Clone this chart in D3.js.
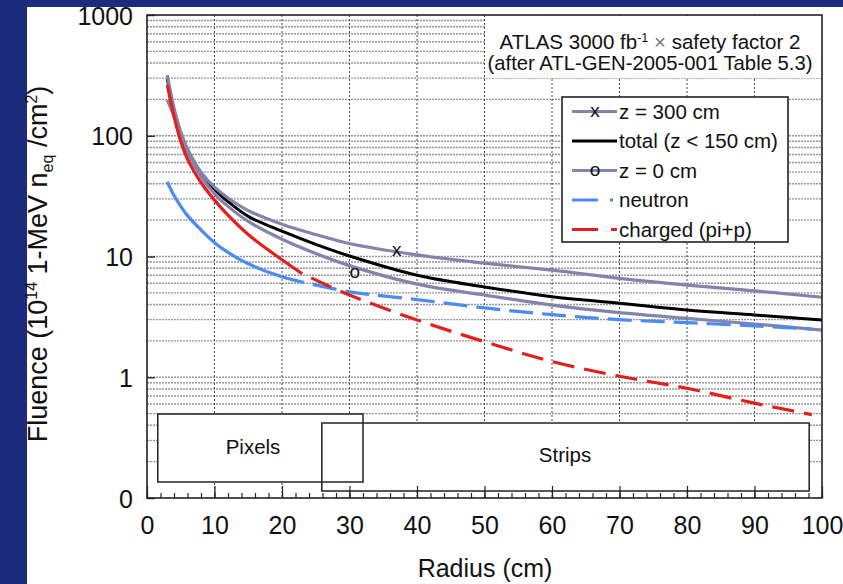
<!DOCTYPE html>
<html>
<head>
<meta charset="utf-8">
<script src="https://cdn.jsdelivr.net/npm/d3@7"></script>
<style>
  html, body { margin: 0; padding: 0; background: #1c2b7b; }
  svg { display: block; }
  text { font-family: "Liberation Sans", Arial, Helvetica, sans-serif; fill: #111; }
</style>
</head>
<body>
<svg id="chart" width="843" height="584"></svg>
<script>
// Radial fluence profiles (units of 1e14 1-MeV neq/cm^2)
const radii     = [3, 4, 5, 6, 8, 10, 12, 15, 20, 25, 30, 40, 50, 60, 70, 80, 90, 100];
const z300      = [318, 170, 108, 78, 50, 37.5, 30.5, 24, 18.5, 15.2, 12.8, 10.3, 8.8, 7.7, 6.6, 5.8, 5.2, 4.6];
const total     = [295, 163, 103, 74, 48, 36, 28.5, 21.5, 16.2, 12.6, 10.1, 7.0, 5.6, 4.65, 4.1, 3.6, 3.28, 2.98];
const z0        = [198, 145, 100, 73, 46, 33, 26, 19.5, 13.9, 10.6, 8.4, 5.9, 4.8, 3.96, 3.43, 3.07, 2.76, 2.46];

const radiiComp = [3, 4, 5, 6, 8, 10, 12, 15, 20, 23, 30, 40, 50, 60, 70, 80, 90, 98.5];
const neutron   = [41.6, 32, 26, 21.8, 16.6, 13.0, 10.8, 8.7, 6.8, 6.15, 5.1, 4.4, 3.75, 3.3, 3.0, 2.83, 2.66, 2.51];
const charged   = [263, 145, 90, 64, 41, 29.3, 22, 15.2, 9.4, 7.2, 4.8, 2.98, 1.97, 1.35, 1.02, 0.81, 0.61, 0.49];
const solidUpTo = 23;   // components drawn solid up to this radius, dashed beyond

const xTicks = d3.range(0, 101, 10);
const xMinorTicks = d3.range(0, 101, 2);
const yTicks = [0.1, 1, 10, 100, 1000];

const seriesNames = ["z = 300 cm", "total (z < 150 cm)", "z = 0 cm", "neutron", "charged (pi+p)"];
const markerLabels = [{ series: "z = 300 cm", r: 37, v: 11.3, ch: "x" },
                      { series: "z = 0 cm", r: 30.8, v: 7.4, ch: "o" }];

// detector regions (radial extents, cm)
const detectorNames = ["Pixels", "Strips"];
const detectorR0 = [1.6, 25.9];
const detectorR1 = [32, 98.1];

const svg = d3.select("#chart");
const W = 843, H = 584;

// white panel
svg.append("rect").attr("x", 27).attr("y", 7).attr("width", W - 27).attr("height", H - 7).attr("fill", "#fff");

const plot = { left: 147, right: 822, top: 15, bottom: 498 };
const x = d3.scaleLinear().domain([0, 100]).range([plot.left, plot.right]);
const y = d3.scaleLog().domain([0.1, 1000]).range([plot.bottom, plot.top]);

// horizontal grid: 1..9 within each decade
const hGrid = [];
[0.1, 1, 10, 100].forEach(d => { for (let k = 1; k <= 9; k++) { const v = d * k; if (v > 0.1) hGrid.push(v); } });
svg.append("g").selectAll("line").data(hGrid).join("line")
  .attr("x1", plot.left).attr("x2", plot.right)
  .attr("y1", d => y(d)).attr("y2", d => y(d))
  .attr("stroke", "#959595").attr("stroke-width", 1.4).attr("stroke-dasharray", "2,1");

// vertical grid every 10 cm
svg.append("g").selectAll("line").data(xTicks.filter(t => t > 0 && t < 100)).join("line")
  .attr("x1", d => x(d)).attr("x2", d => x(d))
  .attr("y1", plot.top).attr("y2", plot.bottom)
  .attr("stroke", "#444").attr("stroke-width", 1).attr("stroke-dasharray", "2,2");

// title block
svg.append("rect").attr("x", 485).attr("y", plot.top + 1).attr("width", plot.right - 486).attr("height", 62).attr("fill", "#fff");
const t1 = svg.append("text").attr("x", 650).attr("y", 48.5).attr("text-anchor", "middle").style("font-size", "20.5px");
t1.append("tspan").text("ATLAS 3000 fb");
t1.append("tspan").attr("dy", -7).style("font-size", "12.5px").text("-1");
t1.append("tspan").attr("dy", 7).text(" ");
t1.append("tspan").style("fill", "#777").style("font-weight", "300").text("×");
t1.append("tspan").text(" safety factor 2");
svg.append("text").attr("x", 650).attr("y", 70).attr("text-anchor", "middle").style("font-size", "20.3px")
  .text("(after ATL-GEN-2005-001 Table 5.3)");

// detector region boxes
const boxTop = [414, 423], boxBottom = [482, 491];
const boxes = svg.append("g");
detectorNames.forEach((n, i) => {
  boxes.append("rect").attr("x", x(detectorR0[i])).attr("y", boxTop[i])
    .attr("width", x(detectorR1[i]) - x(detectorR0[i])).attr("height", boxBottom[i] - boxTop[i])
    .attr("fill", "#fff");
});
detectorNames.forEach((n, i) => {
  boxes.append("rect").attr("x", x(detectorR0[i])).attr("y", boxTop[i])
    .attr("width", x(detectorR1[i]) - x(detectorR0[i])).attr("height", boxBottom[i] - boxTop[i])
    .attr("fill", "none").attr("stroke", "#222").attr("stroke-width", 1.5);
});
boxes.append("text").attr("x", 253).attr("y", 454).attr("text-anchor", "middle").style("font-size", "20.5px").text("Pixels");
boxes.append("text").attr("x", 565).attr("y", 462).attr("text-anchor", "middle").style("font-size", "20.5px").text("Strips");

// curves
const line = d3.line().x(d => x(d[0])).y(d => y(d[1])).curve(d3.curveCatmullRom.alpha(0.5));
const zip = (rs, vs) => rs.map((r, i) => [r, vs[i]]);

const styles = {
  "z = 300 cm":          { color: "#8383ab", width: 3.2 },
  "total (z < 150 cm)":  { color: "#000000", width: 3 },
  "z = 0 cm":            { color: "#8383ab", width: 3.2 },
  "neutron":             { color: "#4a8cf0", width: 3.2, dash: "24,9" },
  "charged (pi+p)":      { color: "#e3201e", width: 3.2, dash: "22,10" }
};

const curves = svg.append("g").attr("fill", "none").attr("stroke-linecap", "butt");
function drawProfile(name, vals) {
  const s = styles[name];
  curves.append("path").attr("d", line(zip(radii, vals))).attr("stroke", s.color).attr("stroke-width", s.width);
}
function drawComponent(name, vals) {
  const pts = zip(radiiComp, vals);
  const solid = pts.filter(p => p[0] <= solidUpTo);
  const dashed = pts.filter(p => p[0] >= solidUpTo);
  const s = styles[name];
  curves.append("path").attr("d", line(solid)).attr("stroke", s.color).attr("stroke-width", s.width);
  curves.append("path").attr("d", line(dashed)).attr("stroke", s.color).attr("stroke-width", s.width)
    .attr("stroke-dasharray", s.dash).attr("stroke-dashoffset", 22);
}
drawProfile("total (z < 150 cm)", total);
drawProfile("z = 0 cm", z0);
drawProfile("z = 300 cm", z300);
drawComponent("neutron", neutron);
drawComponent("charged (pi+p)", charged);

// point markers on the z-curves
svg.append("g").selectAll("text").data(markerLabels).join("text")
  .attr("x", d => x(d.r)).attr("y", d => y(d.v) + 6).attr("text-anchor", "middle")
  .style("font-size", "19px").text(d => d.ch);

// frame and ticks
svg.append("rect").attr("x", plot.left).attr("y", plot.top)
  .attr("width", plot.right - plot.left).attr("height", plot.bottom - plot.top)
  .attr("fill", "none").attr("stroke", "#222").attr("stroke-width", 1.6);

const xAxisMinor = d3.axisBottom(x).tickValues(xMinorTicks).tickSize(-5).tickFormat("");
const gxm = svg.append("g").attr("transform", `translate(0,${plot.bottom})`).call(xAxisMinor);
gxm.select(".domain").remove();
gxm.selectAll("line").attr("stroke", "#222").attr("stroke-width", 1.2);

const xAxis = d3.axisBottom(x).tickValues(xTicks).tickSize(-12).tickPadding(0).tickFormat(d3.format("d"));
const gx = svg.append("g").attr("transform", `translate(0,${plot.bottom})`).call(xAxis);
gx.select(".domain").remove();
gx.selectAll("line").attr("stroke", "#222").attr("stroke-width", 1.2);
gx.selectAll("text").attr("y", 36).attr("dy", 0).style("font-size", "25px")
  .style("font-family", '"Liberation Sans", Arial, sans-serif').attr("fill", "#111");

const yAxis = d3.axisLeft(y).tickValues(yTicks).tickSize(-8).tickPadding(14).tickFormat(d3.format(".0f"));
const gy = svg.append("g").attr("transform", `translate(${plot.left},0)`).call(yAxis);
gy.select(".domain").remove();
gy.selectAll("line").attr("stroke", "#222").attr("stroke-width", 1.4);
gy.selectAll("text").attr("dy", "0.36em").style("font-size", "25px")
  .style("font-family", '"Liberation Sans", Arial, sans-serif').attr("fill", "#111");

// axis titles
svg.append("text").attr("x", 485).attr("y", 577).attr("text-anchor", "middle").style("font-size", "25px").text("Radius (cm)");
const yl = svg.append("text").attr("transform", "translate(47,264) rotate(-90)").attr("text-anchor", "middle").style("font-size", "27px");
yl.append("tspan").text("Fluence (10");
yl.append("tspan").attr("dy", -10).style("font-size", "16px").text("14");
yl.append("tspan").attr("dy", 10).text(" 1-MeV n");
yl.append("tspan").attr("dy", 6).style("font-size", "16px").text("eq");
yl.append("tspan").attr("dy", -6).text(" /cm");
yl.append("tspan").attr("dy", -10).style("font-size", "16px").text("2");
yl.append("tspan").attr("dy", 10).text(")");

// legend
const lg = svg.append("g");
lg.append("rect").attr("x", 562).attr("y", 97).attr("width", 226).attr("height", 145)
  .attr("fill", "#fff").attr("stroke", "#222").attr("stroke-width", 1.6);
const rowY = d3.scalePoint().domain(seriesNames).range([111.5, 229.5]);
const legendDash = { "neutron": "26,12", "charged (pi+p)": "26,13" };
seriesNames.forEach(name => {
  const s = styles[name];
  const yy = rowY(name);
  lg.append("line").attr("x1", 572).attr("x2", name === "neutron" ? 613 : 617).attr("y1", yy).attr("y2", yy)
    .attr("stroke", s.color).attr("stroke-width", s.width)
    .attr("stroke-dasharray", legendDash[name] || null);
  lg.append("text").attr("x", 619).attr("y", yy + 7).style("font-size", "20.5px").text(name);
});
markerLabels.forEach(m => {
  lg.append("text").attr("x", 595).attr("y", rowY(m.series) + 5).attr("text-anchor", "middle")
    .style("font-size", "19px").text(m.ch);
});
</script>
</body>
</html>
